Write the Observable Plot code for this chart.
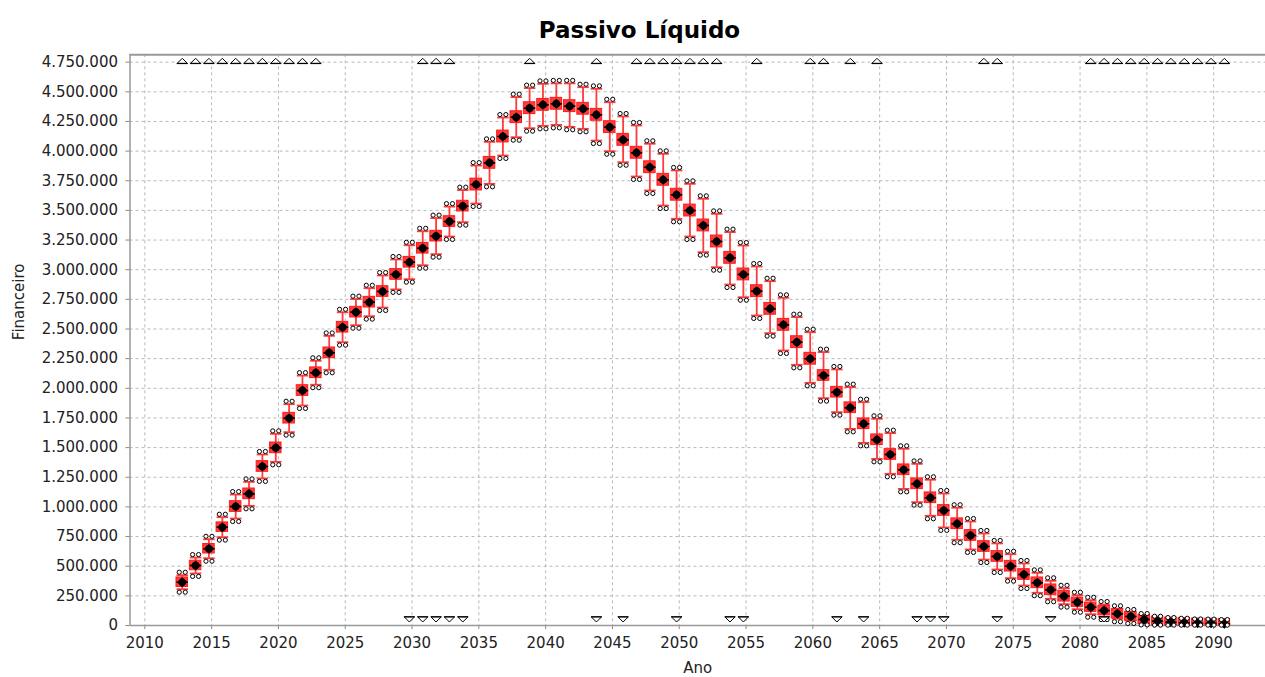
<!DOCTYPE html>
<html><head><meta charset="utf-8">
<script src="https://cdn.jsdelivr.net/npm/d3@7"></script>
<script src="https://cdn.jsdelivr.net/npm/@observablehq/plot@0.6"></script>
<style>
body{margin:0;background:#fff;}
#title{height:44px;box-sizing:border-box;padding-top:17px;padding-left:14px;text-align:center;font:bold 23px "DejaVu Sans";color:#000;line-height:27px;}
</style></head><body>
<div id="title">Passivo Líquido</div>
<div id="chart"></div>
<script>
// values in thousands
const years = d3.range(2013, 2092);
const med = [365,506,647,829,1003,1110,1341,1498,1748,1981,
 2131,2299,2515,2642,2726,2816,2960,3063,3181,3283,
 3406,3536,3718,3901,4123,4286,4362,4390,4399,4379,
 4357,4306,4202,4095,3986,3864,3758,3632,3499,3373,
 3238,3100,2960,2819,2670,2535,2389,2249,2108,1967,
 1836,1701,1566,1442,1313,1195,1077,970,858,759,
 666,582,500,430,360,301,247,196,154,126,
 99,76,51,36,28,23,19,18,15];
const q1 = [325,466,607,789,958,1065,1296,1453,1703,1936,
 2086,2254,2470,2597,2681,2771,2915,3018,3136,3238,
 3361,3491,3668,3851,4073,4236,4312,4340,4349,4329,
 4307,4256,4152,4045,3936,3814,3708,3582,3449,3323,
 3188,3050,2910,2769,2620,2485,2339,2199,2063,1922,
 1791,1656,1521,1397,1268,1150,1032,925,813,714,
 621,537,455,385,315,256,202,157,115,87,
 60,37,12,0,0,0,0,0,0];
const q3 = [405,546,687,869,1048,1155,1386,1543,1793,2026,
 2176,2344,2560,2687,2771,2861,3005,3108,3226,3328,
 3451,3581,3768,3951,4173,4336,4412,4440,4449,4429,
 4407,4356,4252,4145,4036,3914,3808,3682,3549,3423,
 3288,3150,3010,2869,2720,2585,2439,2299,2153,2012,
 1881,1746,1611,1487,1358,1240,1122,1015,903,804,
 711,627,545,475,405,346,292,235,193,165,
 138,115,90,75,67,62,58,57,54];
const lo = [306,439,567,745,902,1009,1240,1380,1630,1855,
 2030,2156,2389,2532,2608,2681,2834,2920,3038,3131,
 3280,3401,3558,3724,3963,4117,4193,4213,4221,4205,
 4188,4089,3999,3906,3786,3668,3541,3429,3280,3148,
 3021,2875,2768,2614,2465,2319,2198,2046,1917,1799,
 1658,1540,1405,1279,1152,1040,925,827,723,641,
 556,472,399,337,276,225,180,137,95,75,
 57,42,26,19,14,10,8,7,5];
const hi = [424,573,727,913,1104,1211,1442,1616,1866,2107,
 2232,2442,2641,2752,2844,2951,3086,3206,3324,3435,
 3532,3671,3878,4078,4283,4455,4531,4567,4571,4571,
 4539,4525,4412,4292,4216,4062,3977,3837,3724,3598,
 3471,3317,3204,3027,2903,2763,2600,2473,2305,2159,
 2010,1883,1743,1622,1490,1363,1229,1113,993,877,
 776,692,601,523,444,377,314,255,213,177,
 141,110,76,53,42,36,30,29,25];
const outHi = [449,598,752,938,1129,1236,1467,1641,1891,2132,
 2257,2467,2666,2777,2869,2976,3111,3231,3349,3460,
 3557,3696,3903,4103,4308,4480,4556,4592,4596,4596,
 4564,4550,4437,4317,4241,4087,4002,3862,3749,3623,
 3496,3342,3229,3052,2928,2788,2625,2498,2330,2184,
 2035,1908,1768,1647,1515,1388,1254,1138,1018,902,
 801,717,626,548,469,402,339,280,238,202,
 166,135,101,78,67,61,55,54,50];
const outLo = [281,414,542,720,877,984,1215,1355,1605,1830,
 2005,2131,2364,2507,2583,2656,2809,2895,3013,3106,
 3255,3376,3533,3699,3938,4092,4168,4188,4196,4180,
 4163,4064,3974,3881,3761,3643,3516,3404,3255,3123,
 2996,2850,2743,2589,2440,2294,2173,2021,1892,1774,
 1633,1515,1380,1254,1127,1015,900,802,698,616,
 531,447,374,312,251,200,155,112,70,50,
 32,17,5,3,3,3,3,3,3];
// years flagged with out-of-range markers
const farHiYears = [2013,2014,2015,2016,2017,2018,2019,2020,2021,2022,2023,
 2031,2032,2033,2039,2044,2047,2048,2049,2050,2051,2052,2053,
 2056,2060,2061,2063,2065,2073,2074,
 2081,2082,2083,2084,2085,2086,2087,2088,2089,2090,2091];
const farLoYears = [2030,2031,2032,2033,2034,2044,2046,2050,2054,2055,
 2062,2064,2068,2069,2070,2074,2078,2082];
const xTicks = [2010,2015,2020,2025,2030,2035,2040,2045,2050,2055,2060,2065,2070,2075,2080,2085,2090];
const yTicks = [0,250000,500000,750000,1000000,1250000,1500000,1750000,2000000,2250000,2500000,
 2750000,3000000,3250000,3500000,3750000,4000000,4250000,4500000,4750000];

const K = 1000;
const data = years.map((year, i) => ({year, med: med[i]*K, q1: q1[i]*K, q3: q3[i]*K,
  lo: lo[i]*K, hi: hi[i]*K, outHi: outHi[i]*K, outLo: outLo[i]*K}));

const fmt = d3.formatLocale({decimal: ",", thousands: ".", grouping: [3], currency: ["", ""]}).format(",d");
const X = d => d.year - 0.2;
const bw = 0.43;
const red = "#ff3a3a";

const triUp = {draw(c) { c.moveTo(-5, 2.5); c.lineTo(0, -2.5); c.lineTo(5, 2.5); c.closePath(); c.moveTo(-5.5, 2.8); c.lineTo(5.5, 2.8); }};
const triDown = {draw(c) { c.moveTo(-5, -2.5); c.lineTo(0, 2.5); c.lineTo(5, -2.5); c.closePath(); c.moveTo(-5.5, -2.8); c.lineTo(5.5, -2.8); }};

const chart = Plot.plot({
  width: 1265, height: 633,
  marginTop: 10.3, marginBottom: 52, marginLeft: 129.5, marginRight: 0,
  style: {fontFamily: "DejaVu Sans", fontSize: "15px", color: "#222", background: "#fff"},
  x: {domain: [2008.89, 2093.88]},
  y: {domain: [0, 4812000]},
  marks: [
    Plot.gridX(xTicks, {stroke: "#b8b8b8", strokeOpacity: 1, strokeDasharray: "3,3"}),
    Plot.gridY(yTicks, {stroke: "#b8b8b8", strokeOpacity: 1, strokeDasharray: "3,3"}),
    Plot.axisX(xTicks, {tickSize: 4, tickPadding: 8, stroke: "#888", fill: "#222", tickFormat: d => String(d), label: null}),
    Plot.axisY(yTicks, {tickSize: 4, tickPadding: 8, stroke: "#888", fill: "#222", tickFormat: fmt, label: null}),
    Plot.ruleY([0], {stroke: "#999", strokeWidth: 1.5}),
    Plot.ruleY([4812000], {stroke: "#999", strokeWidth: 2}),
    Plot.ruleX([2008.89], {stroke: "#999", strokeWidth: 1.5}),
    // whiskers
    Plot.ruleX(data, {x: X, y1: "lo", y2: "hi", stroke: red, strokeWidth: 1.8}),
    Plot.link(data, {x1: d => X(d) - bw, x2: d => X(d) + bw, y1: "hi", y2: "hi", stroke: red, strokeWidth: 1.8}),
    Plot.link(data, {x1: d => X(d) - bw, x2: d => X(d) + bw, y1: "lo", y2: "lo", stroke: red, strokeWidth: 1.8}),
    // boxes
    Plot.rect(data, {x1: d => X(d) - bw, x2: d => X(d) + bw, y1: "q1", y2: "q3", fill: red, stroke: "#ff1a1a", strokeWidth: 1}),
    Plot.link(data, {x1: d => X(d) - bw, x2: d => X(d) + bw, y1: "med", y2: "med", stroke: "#000", strokeWidth: 1.5}),
    Plot.dot(data, {x: X, y: "med", r: 4.5, fill: "#000", symbol: "diamond2"}),
    Plot.dot(data, {x: X, y: "med", r: 3.8, fill: "#000"}),
    // outliers
    Plot.dot(data, {x: X, y: "outHi", dx: -3, r: 2.1, stroke: "#000", strokeWidth: 1, fill: "#fff"}),
    Plot.dot(data, {x: X, y: "outHi", dx: 3, r: 2.1, stroke: "#000", strokeWidth: 1, fill: "#fff"}),
    Plot.dot(data, {x: X, y: "outLo", dx: -3, r: 2.1, stroke: "#000", strokeWidth: 1, fill: "#fff"}),
    Plot.dot(data, {x: X, y: "outLo", dx: 3, r: 2.1, stroke: "#000", strokeWidth: 1, fill: "#fff"}),
    // far-out markers
    Plot.dot(farHiYears, {x: d => d - 0.2, frameAnchor: "top", dy: 6, symbol: triUp, stroke: "#000", strokeWidth: 1, fill: "#fff"}),
    Plot.dot(farLoYears, {x: d => d - 0.2, frameAnchor: "bottom", dy: -6, symbol: triDown, stroke: "#000", strokeWidth: 1, fill: "#fff"}),
    // axis titles
    Plot.text(["Ano"], {frameAnchor: "bottom", dy: 43, lineAnchor: "middle", fill: "#222", fontSize: 15}),
    Plot.text(["Financeiro"], {frameAnchor: "left", dx: -111, rotate: -90, lineAnchor: "middle", fill: "#222", fontSize: 15})
  ]
});
document.getElementById("chart").append(chart);
</script>
</body></html>
